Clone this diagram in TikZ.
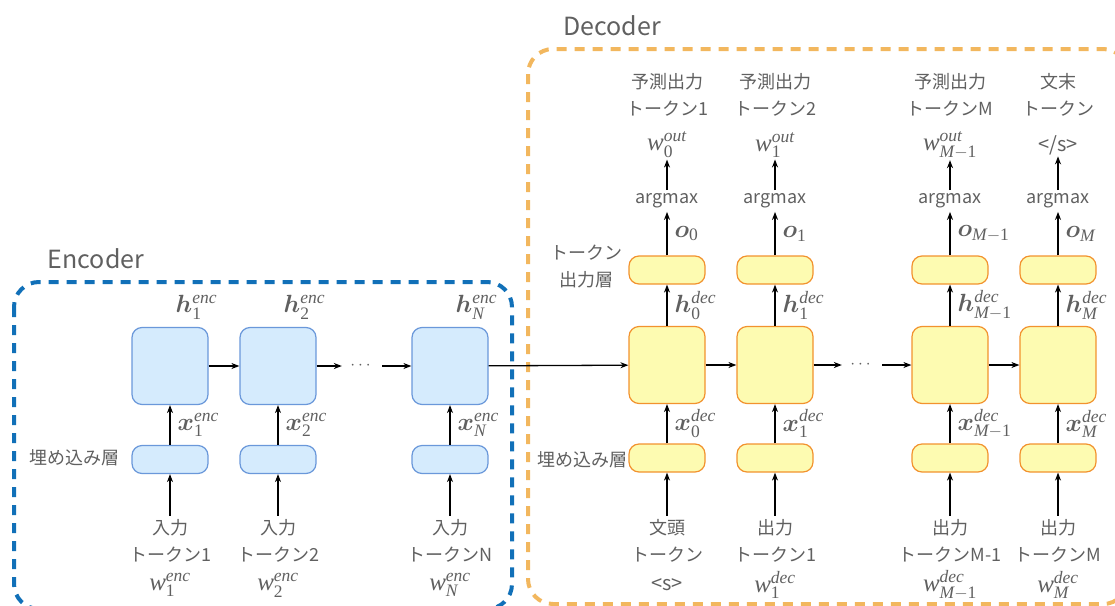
\documentclass[tikz,border=0pt]{standalone}
\usepackage[no-math]{fontspec}
\setmainfont{Noto Sans CJK JP}
\usepackage{amsmath,bm}
% serif italic letters for the vector labels
\newfontfamily\labelserif[NFSSFamily=libser]{Liberation Serif}
\DeclareSymbolFont{letters}{TU}{libser}{m}{it}
\SetSymbolFont{letters}{bold}{TU}{libser}{b}{it}
\DeclareSymbolFont{operators}{TU}{libser}{m}{n}
\SetSymbolFont{operators}{bold}{TU}{libser}{b}{n}
\usetikzlibrary{arrows.meta}

\definecolor{encline}{HTML}{1170B8}
\definecolor{decline}{HTML}{F2B75E}
\definecolor{encfill}{HTML}{D5EBFD}
\definecolor{encdraw}{HTML}{6A98DA}
\definecolor{decfill}{HTML}{FDFBB1}
\definecolor{decdraw}{HTML}{F2922E}
\definecolor{txtgray}{HTML}{606060}

\newcommand{\tokfont}{\fontsize{18}{27}\selectfont}

\tikzset{
  cell/.style={rounded corners=10pt,line width=1.2pt,minimum width=76pt,inner sep=0pt},
  bigcell/.style={cell,minimum height=77pt},
  thincell/.style={cell,minimum height=28pt},
  enc/.style={fill=encfill,draw=encdraw},
  dec/.style={fill=decfill,draw=decdraw},
  txt/.style={text=txtgray,font=\tokfont,align=center,inner sep=3pt},
  mathlbl/.style={text=txtgray,font=\fontsize{25}{28}\selectfont,inner sep=1pt},
  title/.style={text=txtgray,font=\fontsize{25}{30}\selectfont},
  dashframe/.style={line width=4pt,dash pattern=on 10pt off 8pt,rounded corners=25pt},
}

\begin{document}
\begin{tikzpicture}[x=1pt,y=-1pt,line width=1.3pt,>={Stealth[length=8pt,width=6pt]}]
  \useasboundingbox (0,0) rectangle (1115,605);

  % encoder / decoder frames
  \draw[dashframe,encline] (14,282) rectangle (512,609);
  \draw[dashframe,decline] (528,49) rectangle (1128,604);
  \node[title] (enctitle) at (96,259) {Encoder};
  \node[title] (dectitle) at (612,26) {Decoder};

  % encoder columns
  \foreach \i/\x/\s/\t in {1/170/1/1,2/278/2/2,3/450/N/N}{
    \node[bigcell,enc] (ecell\i) at (\x,366) {};
    \node[thincell,enc] (eemb\i) at (\x,459.5) {};
    \node[txt] (ein\i) at (\x,541) {入力\\トークン\t};
    \node[mathlbl] (ew\i) at (\x,585) {$w_{\s}^{enc}$};
    \node[mathlbl,anchor=south west] (eh\i) at ([xshift=4pt,yshift=6pt]ecell\i.north) {$\bm{h}_{\s}^{enc}$};
    \draw[->] (ein\i) -- (eemb\i);
    \draw[->] (eemb\i) -- node[mathlbl,right=6pt] (ex\i) {$\bm{x}_{\s}^{enc}$} (ecell\i);
  }
  \node[txt] (eemblbl) at (74,458) {埋め込み層};

  \node[mathlbl,inner sep=8pt,font=\fontsize{18}{20}\selectfont] (edots) at (362,366) {$\cdots$};
  \draw[->] (ecell1) -- (ecell2);
  \draw[->] (ecell2) -- (edots);
  \draw[->] (edots) -- (ecell3);

  % decoder columns
  \foreach \i/\x/\s/\outtxt/\outw/\intxt/\inw in {
    1/667/0/{予測出力\\トークン1}/{$w_{0}^{out}$}/{文頭\\トークン}/{{\fontsize{20}{24}\selectfont <s>}},
    2/775/1/{予測出力\\トークン2}/{$w_{1}^{out}$}/{出力\\トークン1}/{$w_{1}^{dec}$},
    3/950/{M-1}/{予測出力\\トークンM}/{$w_{M-1}^{out}$}/{出力\\トークンM-1}/{$w_{M-1}^{dec}$},
    4/1058/M/{文末\\トークン}/{{\fontsize{20}{24}\selectfont </s>}}/{出力\\トークンM}/{$w_{M}^{dec}$}}{
    \node[bigcell,dec] (dcell\i) at (\x,365) {};
    \node[thincell,dec] (demb\i) at (\x,458) {};
    \node[thincell,dec] (dout\i) at (\x,270) {};
    \node[txt] (darg\i) at (\x,201) {argmax};
    \node[mathlbl] (dw\i) at (\x,145) {\outw};
    \node[txt] (dtop\i) at (\x,95) {\outtxt};
    \node[txt] (din\i) at (\x,541) {\intxt};
    \node[mathlbl] (dinw\i) at (\x,585) {\inw};
    \draw[->] (din\i) -- (demb\i);
    \draw[->] (demb\i) -- node[mathlbl,right=6pt] (dx\i) {$\bm{x}_{\s}^{dec}$} (dcell\i);
    \draw[->] (dcell\i) -- node[mathlbl,right=6pt] (dh\i) {$\bm{h}_{\s}^{dec}$} (dout\i);
    \draw[->] (dout\i) -- node[mathlbl,right=6pt] (do\i) {$\bm{o}_{\s}$} (darg\i);
    \draw[->] (darg\i) -- (dw\i);
  }
  \node[txt] (demblbl) at (582,460) {埋め込み層};
  \node[txt] (doutlbl) at (586,266) {トークン\\出力層};

  \node[mathlbl,inner sep=8pt,font=\fontsize{18}{20}\selectfont] (ddots) at (862,365) {$\cdots$};
  \draw[->] (ecell3) -- (dcell1);
  \draw[->] (dcell1) -- (dcell2);
  \draw[->] (dcell2) -- (ddots);
  \draw[->] (ddots) -- (dcell3);
  \draw[->] (dcell3) -- (dcell4);
\end{tikzpicture}
\end{document}
